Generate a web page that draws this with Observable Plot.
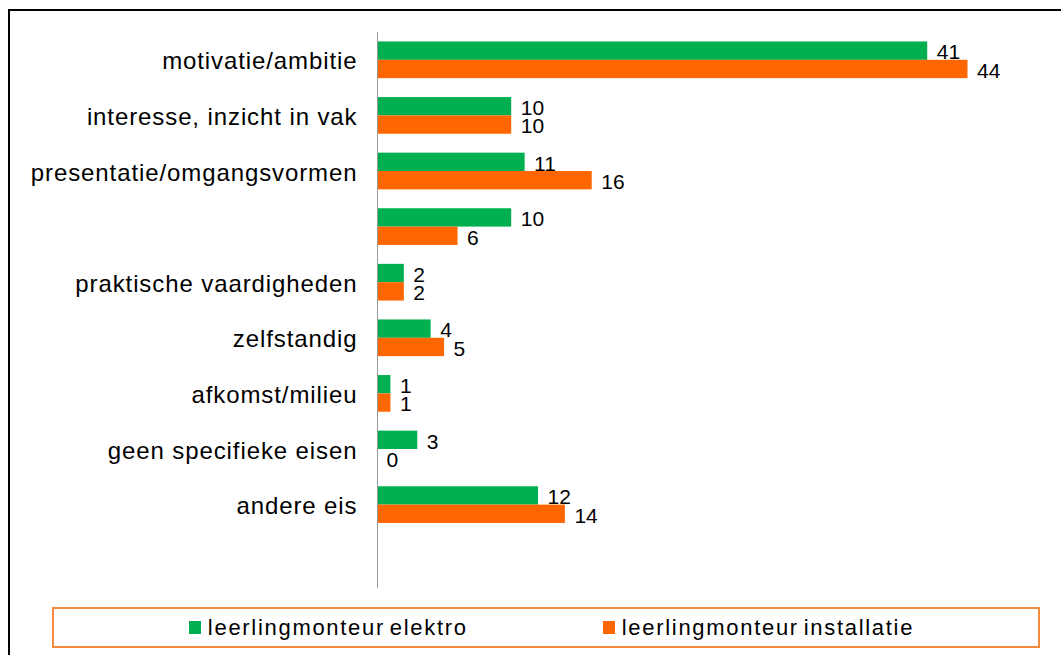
<!DOCTYPE html>
<html>
<head>
<meta charset="utf-8">
<script src="https://cdn.jsdelivr.net/npm/d3@7"></script>
<script src="https://cdn.jsdelivr.net/npm/@observablehq/plot@0.6"></script>
<style>
  html, body { margin: 0; padding: 0; background: #fff; }
  body { width: 1061px; height: 655px; position: relative; overflow: hidden; font-family: "Liberation Sans", Arial, sans-serif; }
  #frame { position: absolute; left: 8px; top: 9px; width: 1200px; height: 800px; border-left: 2px solid #000; border-top: 2px solid #000; }
  #chart { position: absolute; left: 0; top: 0; }
  #legend { position: absolute; left: 52px; top: 607px; width: 988px; height: 41px; box-sizing: border-box; border: 2px solid #f7893b;
            display: flex; align-items: center; justify-content: center; gap: 135px; padding-left: 11px; }
  .item { display: flex; align-items: center; font-size: 22px; letter-spacing: 1.7px; word-spacing: -3px; color: #000; }
  .sw { width: 12px; height: 13px; margin-right: 7px; }
</style>
</head>
<body>
<div id="frame"></div>
<div id="chart"></div>
<div id="legend"></div>
<script>
const categories = [
  "motivatie/ambitie",
  "interesse, inzicht in vak",
  "presentatie/omgangsvormen",
  "",
  "praktische vaardigheden",
  "zelfstandig",
  "afkomst/milieu",
  "geen specifieke eisen",
  "andere eis"
];
const series = ["leerlingmonteur elektro", "leerlingmonteur installatie"];
const elektro = [41, 10, 11, 10, 2, 4, 1, 3, 12];
const installatie = [44, 10, 16, 6, 2, 5, 1, 0, 14];
const colors = ["#00b050", "#ff6600"];

const idx = categories.map((_, i) => i);
const yDomain = [...idx, categories.length]; // trailing empty band as in the original
const dE = idx.map(i => ({cat: i, value: elektro[i]}));
const dI = idx.map(i => ({cat: i, value: installatie[i]}));
const half = 18.35;

const chart = Plot.plot({
  width: 1061,
  height: 600,
  marginLeft: 377,
  marginRight: 13,
  marginTop: 32,
  marginBottom: 12,
  style: {fontFamily: "'Liberation Sans', Arial, sans-serif", background: "transparent", overflow: "visible"},
  x: {domain: [0, 50], axis: null},
  y: {type: "band", domain: yDomain, paddingInner: 0.34, paddingOuter: 0.17, round: false, axis: null},
  marks: [
    Plot.barX(dE, {x: "value", y: "cat", fill: colors[0], insetBottom: half}),
    Plot.barX(dI, {x: "value", y: "cat", fill: colors[1], insetTop: half}),
    Plot.ruleX([0], {stroke: "#999", strokeWidth: 1}),
    Plot.text(dE, {x: "value", y: "cat", text: d => String(d.value), textAnchor: "start", dx: 9, dy: -7.7, fontSize: 21, fill: "#000"}),
    Plot.text(dI, {x: "value", y: "cat", text: d => String(d.value), textAnchor: "start", dx: 9, dy: 10.7, fontSize: 21, fill: "#000"}),
    Plot.text(idx, {x: () => 0, y: d => d, text: d => categories[d], textAnchor: "end", dx: -20, dy: 1.5, fontSize: 24, fill: "#000"})
  ]
});
chart.querySelectorAll('[font-size="24"]').forEach(g => {
  g.style.letterSpacing = "0.9px";
});
document.getElementById("chart").appendChild(chart);

const legend = document.getElementById("legend");
series.forEach((s, i) => {
  const item = document.createElement("div");
  item.className = "item";
  const sw = document.createElement("span");
  sw.className = "sw";
  sw.style.background = colors[i];
  const label = document.createElement("span");
  label.textContent = s;
  item.appendChild(sw);
  item.appendChild(label);
  legend.appendChild(item);
});
</script>
</body>
</html>
